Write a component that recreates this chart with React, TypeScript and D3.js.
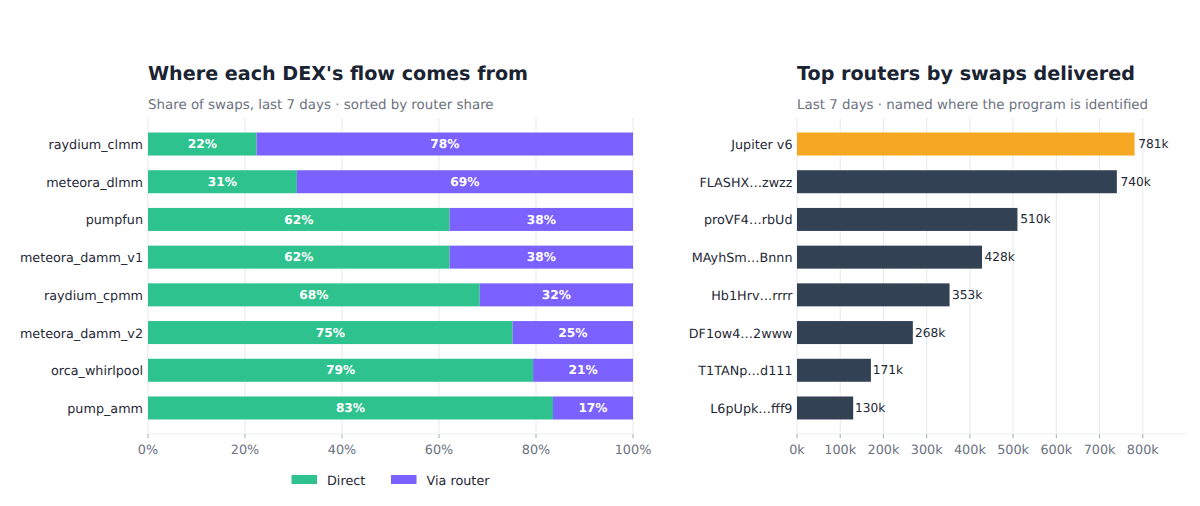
import React from 'react';
import * as d3 from 'd3';

const dexNames = ['raydium_clmm', 'meteora_dlmm', 'pumpfun', 'meteora_damm_v1', 'raydium_cpmm', 'meteora_damm_v2', 'orca_whirlpool', 'pump_amm'];
const directShare = [22.4, 30.7, 62.2, 62.2, 68.4, 75.2, 79.4, 83.5];
const routerShare = [77.6, 69.3, 37.8, 37.8, 31.6, 24.8, 20.6, 16.5];
const shareTicks = [0, 20, 40, 60, 80, 100];

const routerNames = ['Jupiter v6', 'FLASHX…zwzz', 'proVF4…rbUd', 'MAyhSm…Bnnn', 'Hb1Hrv…rrrr', 'DF1ow4…2www', 'T1TANp…d111', 'L6pUpk…fff9'];
const routerSwaps = [781, 740, 510, 428, 353, 268, 171, 130];
const swapTicks = [0, 100, 200, 300, 400, 500, 600, 700, 800];

const GREEN = '#2ec28e';
const PURPLE = '#7b61ff';
const ORANGE = '#f7a823';
const SLATE = '#334155';
const INK = '#1f2937';
const MUTED = '#6b7280';
const GRID = '#e9ecef';
const FONT = '"DejaVu Sans", sans-serif';

const top = 118;
const bottom = 434;

const Axis = ({ x, ticks, fmt, x0, x1 }: { x: (v: number) => number; ticks: number[]; fmt: (v: number) => string; x0: number; x1: number }) => (
  <g>
    {ticks.map((t) => (
      <g key={t}>
        <line x1={x(t)} x2={x(t)} y1={bottom} y2={bottom + 4} stroke="#9ca3af" strokeWidth={1} />
        <text x={x(t)} y={bottom + 20} textAnchor="middle" fontSize={12.8} fill={MUTED}>{fmt(t)}</text>
      </g>
    ))}
    <line x1={x0} x2={x1} y1={bottom} y2={bottom} stroke={GRID} strokeWidth={1} />
  </g>
);

const Grid = ({ x, ticks }: { x: (v: number) => number; ticks: number[] }) => (
  <g>
    {ticks.map((t) => (
      <line key={t} x1={x(t)} x2={x(t)} y1={top} y2={bottom} stroke={GRID} strokeWidth={1.2} />
    ))}
  </g>
);

export default function App() {
  // left panel: stacked share bars
  const xShare = d3.scaleLinear().domain([0, 100]).range([148, 633]);
  const yDex = d3.scaleBand<string>().domain(dexNames).range([top, bottom]).paddingInner(0.39).paddingOuter(0.385);

  // right panel: router totals
  const xSwaps = d3.scaleLinear().domain([0, 900]).range([797, 1186]);
  const yRouter = d3.scaleBand<string>().domain(routerNames).range([top, bottom]).paddingInner(0.39).paddingOuter(0.385);

  return (
    <svg width={1200} height={506} style={{ position: 'absolute', left: 0, top: 0, background: '#fff', textRendering: 'geometricPrecision' }} fontFamily={FONT}>
      <text x={148} y={80} fontSize={19.15} fontWeight="bold" fill="#1a2332">Where each DEX's flow comes from</text>
      <text x={148} y={109} fontSize={13.4} fill={MUTED}>Share of swaps, last 7 days · sorted by router share</text>

      <Grid x={xShare} ticks={shareTicks} />
      {dexNames.map((name, i) => {
        const y = yDex(name)!;
        const h = yDex.bandwidth();
        const d = directShare[i];
        const r = routerShare[i];
        return (
          <g key={name}>
            <rect x={xShare(0)} y={y} width={xShare(d) - xShare(0)} height={h} fill={GREEN} />
            <rect x={xShare(d)} y={y} width={xShare(d + r) - xShare(d)} height={h} fill={PURPLE} />
            <text x={xShare(d / 2)} y={y + h / 2 + 4.2} textAnchor="middle" fontSize={12.2} fontWeight="bold" fill="#fff">{Math.floor(d + 0.5 - 0.001)}%</text>
            <text x={xShare(d + r / 2)} y={y + h / 2 + 4.2} textAnchor="middle" fontSize={12.2} fontWeight="bold" fill="#fff">{Math.round(r)}%</text>
            <text x={143} y={y + h / 2 + 5} textAnchor="end" fontSize={12.75} fill={INK}>{name}</text>
          </g>
        );
      })}
      <Axis x={xShare} ticks={shareTicks} fmt={(v) => `${v}%`} x0={148} x1={633} />

      <rect x={291.5} y={475} width={25.5} height={9} fill={GREEN} />
      <text x={327} y={485} fontSize={12.8} fill={INK}>Direct</text>
      <rect x={391} y={475} width={25.5} height={9} fill={PURPLE} />
      <text x={426.5} y={485} fontSize={12.8} fill={INK}>Via router</text>

      <text x={797} y={80} fontSize={19.15} fontWeight="bold" fill="#1a2332">Top routers by swaps delivered</text>
      <text x={797} y={109} fontSize={13.4} fill={MUTED}>Last 7 days · named where the program is identified</text>

      <Grid x={xSwaps} ticks={swapTicks} />
      {routerNames.map((name, i) => {
        const y = yRouter(name)!;
        const h = yRouter.bandwidth();
        const v = routerSwaps[i];
        return (
          <g key={name}>
            <rect x={xSwaps(0)} y={y} width={xSwaps(v) - xSwaps(0)} height={h} fill={i === 0 ? ORANGE : SLATE} />
            <text x={xSwaps(v * 1.007 + 3)} y={y + h / 2 + 4} fontSize={12.2} fill={INK}>{v}k</text>
            <text x={792.5} y={y + h / 2 + 5} textAnchor="end" fontSize={12.75} fill={INK}>{name}</text>
          </g>
        );
      })}
      <Axis x={xSwaps} ticks={swapTicks} fmt={(v) => `${v}k`} x0={797} x1={1186} />
    </svg>
  );
}
